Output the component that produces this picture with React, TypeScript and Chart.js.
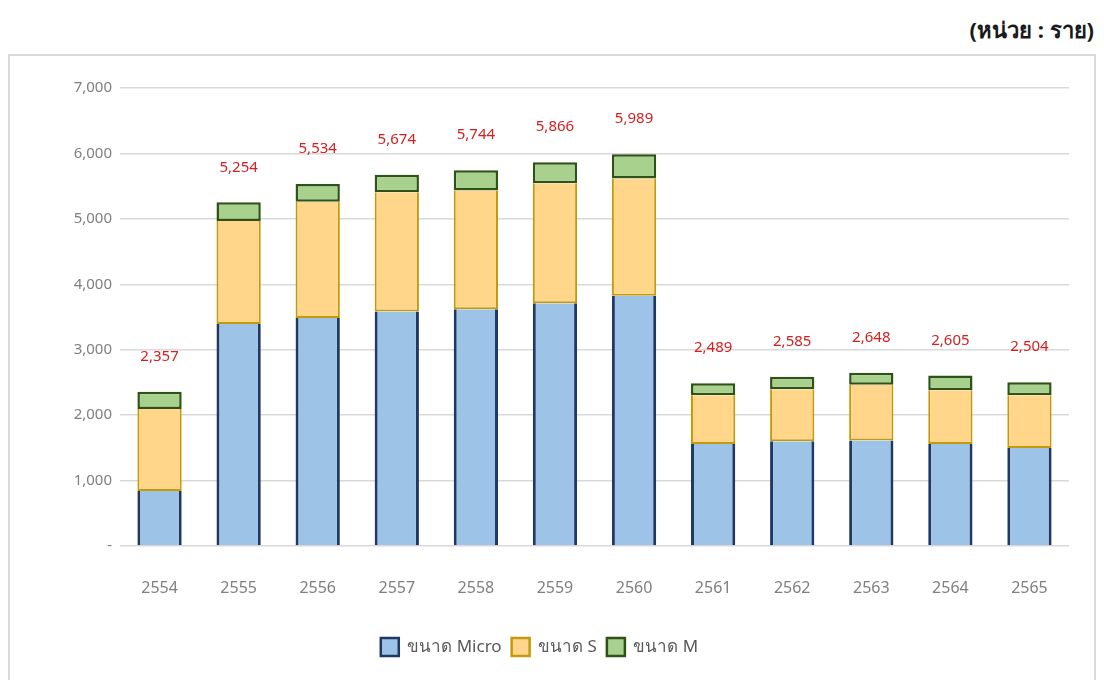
import React, { useEffect, useRef } from "react";
import { Chart, registerables } from "chart.js";

Chart.register(...registerables);

const categories = ["2554", "2555", "2556", "2557", "2558", "2559", "2560", "2561", "2562", "2563", "2564", "2565"];
const microValues = [841, 3394, 3486, 3583, 3619, 3711, 3823, 1559, 1600, 1611, 1559, 1498];
const sizeSValues = [1254, 1575, 1774, 1825, 1814, 1835, 1793, 746, 797, 852, 822, 807];
const sizeMValues = [262, 285, 274, 266, 311, 320, 373, 184, 188, 185, 224, 199];
const totals = [2357, 5254, 5534, 5674, 5744, 5866, 5989, 2489, 2585, 2648, 2605, 2504];
const seriesLabels = ["ขนาด Micro", "ขนาด S", "ขนาด M"];
const yTicks = [0, 1000, 2000, 3000, 4000, 5000, 6000, 7000];
const unitText = "(หน่วย : ราย)";

const FONT = "'Noto Sans', 'DejaVu Sans', sans-serif";

const totalLabels = {
  id: "totalLabels",
  afterDatasetsDraw(chart: any) {
    const ctx = chart.ctx;
    const x = chart.scales.x;
    const y = chart.scales.y;
    ctx.save();
    ctx.fillStyle = "#d42020";
    ctx.font = `15px ${FONT}`;
    ctx.textAlign = "center";
    ctx.textBaseline = "middle";
    totals.forEach((t, i) => {
      const px = x.getPixelForValue(i);
      const py = y.getPixelForValue(t);
      ctx.fillText(t.toLocaleString("en-US"), px, py - 35);
    });
    ctx.restore();
  },
};

export default function App() {
  const ref = useRef<HTMLCanvasElement>(null);
  useEffect(() => {
    if (!ref.current) return;
    const chart = new Chart(ref.current, {
      type: "bar",
      data: {
        labels: categories,
        datasets: [
          {
            label: seriesLabels[0],
            data: microValues,
            backgroundColor: "#9dc3e6",
            borderColor: "#1f3864",
            borderWidth: { left: 3, right: 3, top: 0, bottom: 0 } as any,
            borderSkipped: false,
          },
          {
            label: seriesLabels[1],
            data: sizeSValues,
            backgroundColor: "#ffd68a",
            borderColor: "#c49a0c",
            borderWidth: { left: 2, right: 2, top: 0, bottom: 2 } as any,
            borderSkipped: false,
          },
          {
            label: seriesLabels[2],
            data: sizeMValues,
            backgroundColor: "#a9d18e",
            borderColor: "#2f5217",
            borderWidth: 2.5,
            borderSkipped: false,
          },
        ],
      },
      options: {
        responsive: false,
        animation: false,
        layout: { padding: { left: 0, right: 25, top: 32, bottom: 6 } },
        datasets: { bar: { barPercentage: 0.7, categoryPercentage: 0.8 } },
        plugins: {
          legend: {
            position: "bottom",
            labels: {
              boxWidth: 18,
              boxHeight: 18,
              padding: 10,
              color: "#595959",
              font: { family: FONT, size: 17 },
              generateLabels(chart: any) {
                const items = Chart.defaults.plugins.legend.labels.generateLabels(chart);
                items.forEach((it: any) => {
                  it.lineWidth = 2.5;
                });
                return items;
              },
            },
          },
          tooltip: { enabled: false },
        },
        scales: {
          x: {
            stacked: true,
            grid: { display: false },
            border: { display: false },
            ticks: { color: "#7f7f7f", font: { family: FONT, size: 16 }, padding: 25 },
            afterFit(s: any) {
              s.height = 82;
            },
          },
          y: {
            stacked: true,
            min: 0,
            max: 7000,
            afterBuildTicks(s: any) {
              s.ticks = yTicks.map((v) => ({ value: v }));
            },
            afterFit(s: any) {
              s.width = 110;
            },
            grid: { color: "#d9d9d9", lineWidth: 1.5, drawTicks: false },
            border: { display: false },
            ticks: {
              color: "#7f7f7f",
              padding: 8,
              font: { family: FONT, size: 15 },
              callback: (v: any) => (Number(v) === 0 ? "-" : Number(v).toLocaleString("en-US")),
            },
          },
        },
      },
      plugins: [totalLabels],
    });
    return () => chart.destroy();
  }, []);

  return (
    <div style={{ position: "relative", width: 1088, height: 672, overflow: "hidden", fontFamily: FONT }}>
      <div
        style={{
          position: "absolute",
          right: 2,
          top: 5,
          fontSize: 22,
          fontWeight: "bold",
          color: "#1a1a1a",
        }}
      >
        {unitText}
      </div>
      <div
        style={{
          position: "absolute",
          left: 0,
          top: 46,
          width: 1088,
          height: 640,
          boxSizing: "border-box",
          border: "2px solid #d9d9d9",
        }}
      >
        <canvas ref={ref} width={1084} height={616} style={{ display: "block" }} />
      </div>
    </div>
  );
}
